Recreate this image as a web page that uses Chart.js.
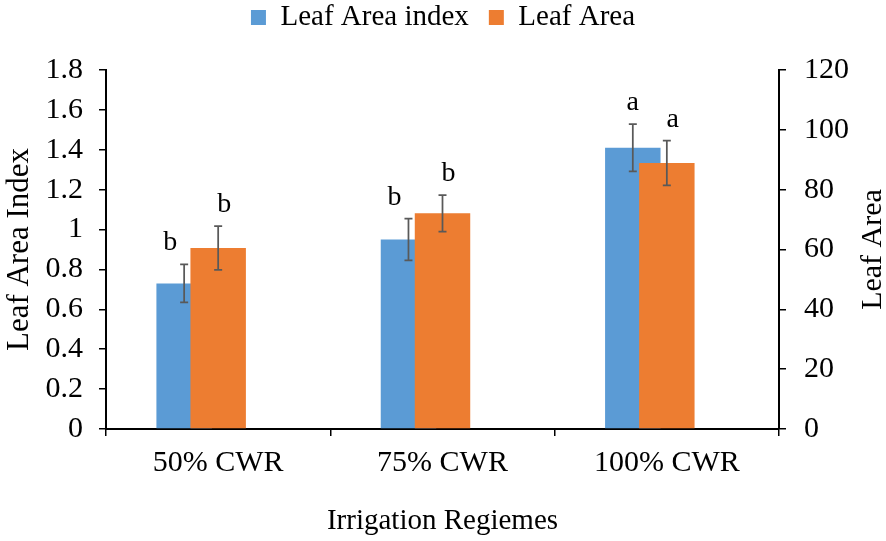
<!DOCTYPE html>
<html>
<head>
<meta charset="utf-8">
<script src="https://cdn.jsdelivr.net/npm/chart.js@4.4.0/dist/chart.umd.min.js"></script>
<style>
    html, body { margin: 0; padding: 0; background: #fff; }
    #wrap { width: 886px; height: 541px; }
</style>
</head>
<body>
<div id="wrap"><canvas id="mycanvas_leaf"></canvas></div>
<script>
var regimes = ['50% CWR', '75% CWR', '100% CWR'];

var lai_values = [0.73, 0.95, 1.41];
var lai_errors = [0.095, 0.105, 0.118];
var lai_letters = ['b', 'b', 'a'];

var area_values = [60.5, 72.1, 88.9];
var area_errors = [7.3, 6.1, 7.5];
var area_letters = ['b', 'b', 'a'];

var lai_ticks = [0, 0.2, 0.4, 0.6, 0.8, 1, 1.2, 1.4, 1.6, 1.8];
var area_ticks = [0, 20, 40, 60, 80, 100, 120];

var serif = "'Liberation Serif', 'Times New Roman', serif";
var tickFont = { family: serif, size: 30 };
var labelFont = { family: serif, size: 29 };

// orange bars overlap the blue ones, so blue has to be painted first
var drawOrder = {
    id: 'drawOrder',
    beforeDatasetDraw: function (chart, args) {
        if (args.index === 0) return false;
        if (args.index === 1) chart.getDatasetMeta(0).controller.draw();
    }
};

// error bars + significance letters
var errorBars = {
    id: 'errorBars',
    afterDatasetsDraw: function (chart) {
        var ctx = chart.ctx;
        var tops = [[], []];
        for (var d = 0; d < 2; d++) {
            var ds = chart.data.datasets[d];
            var meta = chart.getDatasetMeta(d);
            var yScale = chart.scales[ds.yAxisID];
            ctx.save();
            ctx.strokeStyle = '#595959';
            ctx.lineWidth = 1.75;
            meta.data.forEach(function (bar, i) {
                var top = yScale.getPixelForValue(ds.data[i] + ds.errors[i]);
                var bottom = yScale.getPixelForValue(ds.data[i] - ds.errors[i]);
                tops[d][i] = top;
                ctx.beginPath();
                ctx.moveTo(bar.x, top); ctx.lineTo(bar.x, bottom);
                ctx.moveTo(bar.x - 4, top); ctx.lineTo(bar.x + 4, top);
                ctx.moveTo(bar.x - 4, bottom); ctx.lineTo(bar.x + 4, bottom);
                ctx.stroke();
            });
            ctx.restore();
        }
        ctx.save();
        ctx.fillStyle = '#000';
        ctx.font = '28px ' + serif;
        ctx.textAlign = 'center';
        ctx.textBaseline = 'alphabetic';
        for (var d = 0; d < 2; d++) {
            var ds = chart.data.datasets[d];
            var meta = chart.getDatasetMeta(d);
            meta.data.forEach(function (bar, i) {
                var x = bar.x;
                // blue letter moves aside when the orange whisker is taller
                if (d === 0 && tops[1][i] < tops[0][i]) x -= 14;
                if (d === 1) x += 6;
                ctx.fillText(ds.letters[i], x, tops[d][i] - 14);
            });
        }
        ctx.restore();
    }
};

// right axis title, reading bottom to top like the left one
var rightTitle = {
    id: 'rightTitle',
    afterDraw: function (chart) {
        var ctx = chart.ctx;
        var area = chart.chartArea;
        ctx.save();
        ctx.translate(chart.width - 13, (area.top + area.bottom) / 2);
        ctx.rotate(-Math.PI / 2);
        ctx.fillStyle = '#000';
        ctx.font = '30px ' + serif;
        ctx.textAlign = 'center';
        ctx.textBaseline = 'middle';
        ctx.fillText('Leaf Area', 0, 0);
        ctx.restore();
    }
};

var ctx_leaf = document.getElementById('mycanvas_leaf').getContext('2d');
var myChart_leaf = new Chart(ctx_leaf, {
    type: 'bar',
    data: {
        labels: regimes,
        datasets: [{
            label: 'Leaf Area index',
            data: lai_values,
            errors: lai_errors,
            letters: lai_letters,
            yAxisID: 'y',
            backgroundColor: '#5B9BD5',
            borderWidth: 0,
            categoryPercentage: 0.455,
            barPercentage: 1.63
        }, {
            label: 'Leaf Area',
            data: area_values,
            errors: area_errors,
            letters: area_letters,
            yAxisID: 'y1',
            backgroundColor: '#ED7D31',
            borderWidth: 0,
            categoryPercentage: 0.455,
            barPercentage: 1.63
        }, {
            // empty slot keeps the orange bar on the category centre
            label: '',
            data: [null, null, null],
            yAxisID: 'y',
            categoryPercentage: 0.455,
            barPercentage: 1.63
        }]
    },
    options: {
        responsive: true,
        maintainAspectRatio: false,
        animation: false,
        layout: { padding: { top: -17, left: 0, right: 0, bottom: 0 } },
        plugins: {
            tooltip: { enabled: false },
            legend: {
                position: 'top',
                labels: {
                    boxWidth: 15,
                    boxHeight: 15,
                    padding: 20,
                    color: '#000',
                    font: labelFont,
                    filter: function (item) { return item.text !== ''; }
                }
            },
            // blank line between legend and plot
            subtitle: {
                display: true,
                text: '',
                position: 'top',
                weight: 500,
                font: { family: serif, size: 28, lineHeight: 1 },
                padding: 0
            }
        },
        scales: {
            x: {
                offset: true,
                stacked: false,
                grid: { offset: true, drawOnChartArea: false, tickLength: 7, color: '#000', lineWidth: 1.5 },
                border: { color: '#000', width: 2 },
                ticks: { padding: 9, color: '#000', font: tickFont },
                title: { display: true, text: 'Irrigation Regiemes', color: '#000', font: labelFont, padding: { top: 0, bottom: 2 } },
                afterFit: function (s) { s.height = 112; }
            },
            y: {
                position: 'left',
                min: 0,
                max: 1.8,
                afterBuildTicks: function (s) { s.ticks = lai_ticks.map(function (v) { return { value: v }; }); },
                grid: { drawOnChartArea: false, tickLength: 7, color: '#000', lineWidth: 1.5 },
                border: { color: '#000', width: 2 },
                ticks: {
                    padding: 16, color: '#000', font: tickFont,
                    callback: function (v) { return String(Math.round(v * 10) / 10); }
                },
                title: { display: true, text: 'Leaf Area Index', color: '#000', font: { family: serif, size: 31, lineHeight: 1 }, padding: { top: 4, bottom: 0 } },
                afterFit: function (s) { s.width = 106; }
            },
            y1: {
                position: 'right',
                min: 0,
                max: 120,
                afterBuildTicks: function (s) { s.ticks = area_ticks.map(function (v) { return { value: v }; }); },
                grid: { drawOnChartArea: false, tickLength: 7, color: '#000', lineWidth: 1.5 },
                border: { color: '#000', width: 2 },
                ticks: { padding: 18, color: '#000', font: tickFont },
                title: { display: false },
                afterFit: function (s) { s.width = 107; }
            }
        }
    },
    plugins: [drawOrder, errorBars, rightTitle]
});
</script>
</body>
</html>
